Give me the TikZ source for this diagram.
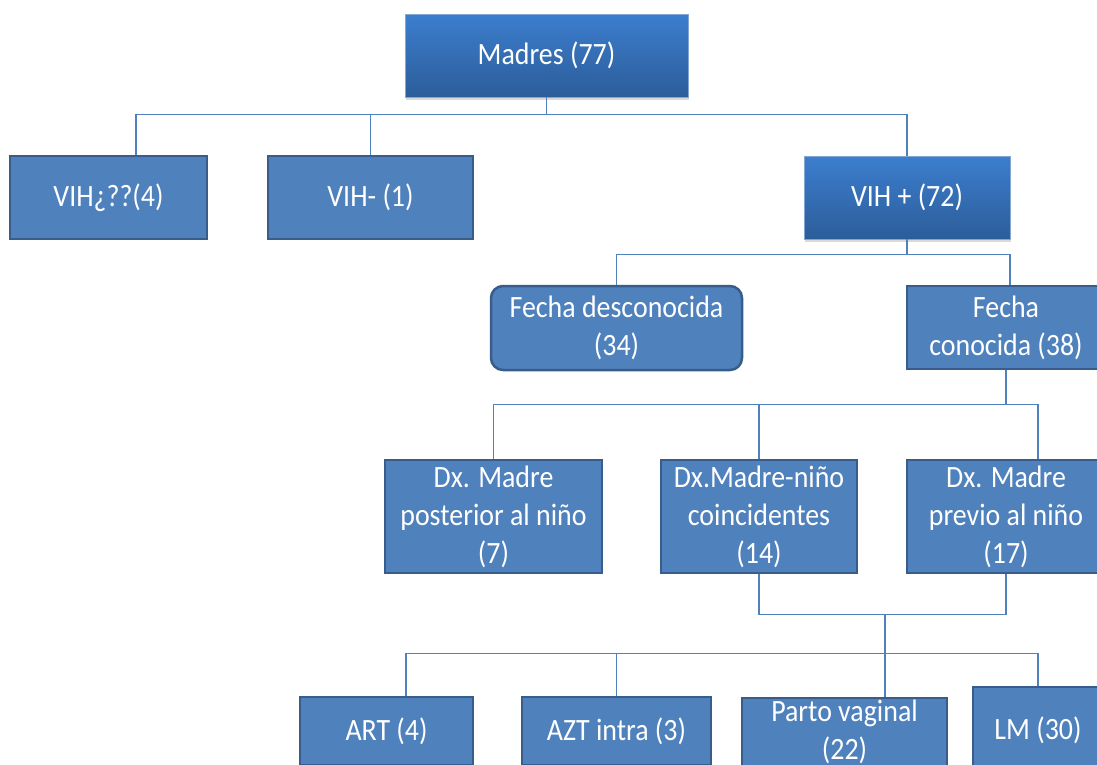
\documentclass[tikz,border=0pt]{standalone}
\usepackage{fontspec}
\setmainfont{Carlito}[FakeStretch=0.9]
\usepackage{tikz}
\usetikzlibrary{shapes, arrows.meta, positioning, shadows}
\definecolor{boxblue}{RGB}{79,129,189}
\definecolor{boxedge}{RGB}{56,93,138}
\definecolor{toplight}{RGB}{60,126,206}
\definecolor{topdark}{RGB}{44,93,154}
\tikzstyle{block} = [draw=boxedge, line width=2.5pt, fill=boxblue, rectangle, text=white, align=center, inner sep=0pt, font=\fontsize{31}{38}\selectfont]
\tikzstyle{topblock} = [block, draw=boxblue!70, line width=0.8pt, top color=toplight, bottom color=topdark, drop shadow={opacity=0.3, shadow xshift=1pt, shadow yshift=-3pt}]
\tikzstyle{link} = [draw=boxblue, line width=1.2pt]

\begin{document}
\begin{tikzpicture}[x=1pt, y=-1pt]
    \useasboundingbox (0,0) rectangle (1097,764);
    \clip (0,0) rectangle (1097,764);
    \node[topblock, minimum width=283pt, minimum height=83pt] (madres) at (546.5,55.5) {Madres (77)};
    \node[block, minimum width=197pt, minimum height=83pt] (vihq) at (108.5,197.5) {VIH¿??(4)};
    \node[block, minimum width=205pt, minimum height=83pt] (vihn) at (370.5,197.5) {VIH- (1)};
    \node[topblock, minimum width=206pt, minimum height=83pt] (vihp) at (907,197.5) {VIH + (72)};
    \node[block, rounded corners=12pt, minimum width=251pt, minimum height=84pt] (fd) at (616.5,328) {Fecha desconocida\\(34)};
    \node[block, minimum width=198pt, minimum height=83pt] (fc) at (1006,327.5) {Fecha\\conocida (38)};
    \node[block, minimum width=217pt, minimum height=113pt] (dxpost) at (493.5,516.5) {Dx. Madre\\posterior al niño\\(7)};
    \node[block, minimum width=196pt, minimum height=113pt] (dxcoin) at (759,516.5) {Dx.Madre-niño\\coincidentes\\(14)};
    \node[block, minimum width=198pt, minimum height=113pt] (dxprev) at (1006,516.5) {Dx. Madre\\previo al niño\\(17)};
    \node[block, minimum width=173pt, minimum height=68pt] (art) at (386.5,731) {ART (4)};
    \node[block, minimum width=189pt, minimum height=68pt] (azt) at (616.5,731) {AZT intra (3)};
    \node[block, minimum width=205pt, minimum height=68pt] (parto) at (844.5,732) {Parto vaginal\\(22)};
    \node[block, minimum width=130pt, minimum height=86pt] (lm) at (1038,730) {LM (30)};
    % first level
    \draw[link] (madres.south) -- ++(0,17) coordinate (b1);
    \draw[link] (b1) -| ([xshift=27.5pt]vihq.north);
    \draw[link] (b1) -| (vihn.north);
    \draw[link] (b1) -| (vihp.north);
    % vih +
    \draw[link] (vihp.south) -- ++(0,15) coordinate (b2);
    \draw[link] (b2) -| (fd.north);
    \draw[link] (b2) -| ([xshift=4pt]fc.north);
    % fecha conocida
    \draw[link] (fc.south) -- ++(0,34) coordinate (b3);
    \draw[link] (b3) -| (dxpost.north);
    \draw[link] (b3) -| (dxcoin.north);
    \draw[link] (b3) -| ([xshift=32pt]dxprev.north);
    % dx coincidentes y previo
    \draw[link] (dxcoin.south) -- ++(0,40) coordinate (b4) -| (dxprev.south);
    \coordinate (b5) at ([xshift=40.5pt]parto.north |- b4);
    \draw[link] (b5) -- ++(0,39) coordinate (b6);
    \draw[link] (b6) -| ([xshift=19.5pt]art.north);
    \draw[link] (b6) -| (azt.north);
    \draw[link] (b6) -| ([xshift=40.5pt]parto.north);
    \draw[link] (b6) -| (lm.north);
\end{tikzpicture}
\end{document}
